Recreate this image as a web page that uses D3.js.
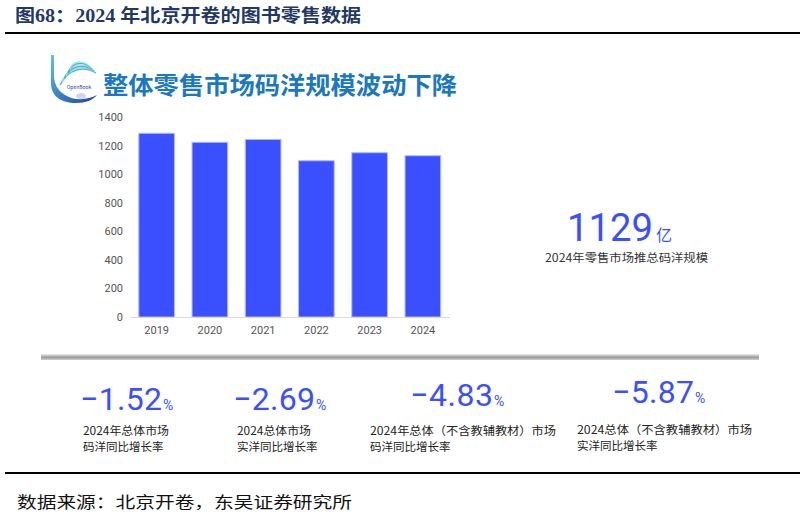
<!DOCTYPE html>
<html>
<head>
<meta charset="utf-8">
<script src="https://cdn.jsdelivr.net/npm/d3@7/dist/d3.min.js"></script>
<style>
  html, body { margin: 0; padding: 0; background: #fff; }
  svg { display: block; }
</style>
</head>
<body>
<svg id="chart" width="805" height="520"></svg>
<script>
// ---- data ----
const years = ["2019", "2020", "2021", "2022", "2023", "2024"];
const salesValues = [1286, 1223, 1243, 1094, 1150, 1129];
const yTicks = [0, 200, 400, 600, 800, 1000, 1200, 1400];
const headlineValue = "1129";
const headlineUnit = "亿";
const headlineLabel = "2024年零售市场推总码洋规模";
const kpiValues = ["−1.52", "−2.69", "−4.83", "−5.87"];
const kpiLabelLine1 = ["2024年总体市场", "2024总体市场", "2024年总体（不含教辅教材）市场", "2024总体（不含教辅教材）市场"];
const kpiLabelLine2 = ["码洋同比增长率", "实洋同比增长率", "码洋同比增长率", "实洋同比增长率"];
const figTitle = "图68：2024 年北京开卷的图书零售数据";
const panelTitle = "整体零售市场码洋规模波动下降";
const sourceText = "数据来源：北京开卷，东吴证券研究所";

const svg = d3.select("#chart");
const sans = "'Noto Sans CJK SC', 'Noto Sans', sans-serif";
const serif = "'Liberation Serif', 'DejaVu Serif', 'Noto Sans CJK SC', serif";
const blue = "#3a50ff";

// ---- frame: title, rules, source ----
svg.append("text").attr("x", 15).attr("y", 22)
  .attr("font-family", serif).attr("font-weight", "bold").attr("font-size", 18)
  .attr("fill", "#1f3864").attr("textLength", 346).attr("lengthAdjust", "spacingAndGlyphs")
  .text(figTitle);
svg.append("line").attr("x1", 5).attr("x2", 800).attr("y1", 33).attr("y2", 33)
  .attr("stroke", "#000").attr("stroke-width", 2);
svg.append("line").attr("x1", 5).attr("x2", 800).attr("y1", 473).attr("y2", 473)
  .attr("stroke", "#000").attr("stroke-width", 2);
svg.append("text").attr("x", 17).attr("y", 508)
  .attr("font-family", serif).attr("font-size", 16)
  .attr("fill", "#111").attr("textLength", 335).attr("lengthAdjust", "spacingAndGlyphs")
  .text(sourceText);

// ---- logo (approximation) ----
const defs = svg.append("defs");
const lg = defs.append("linearGradient").attr("id", "logoGrad")
  .attr("x1", "0").attr("y1", "0").attr("x2", "1").attr("y2", "1");
lg.append("stop").attr("offset", "0%").attr("stop-color", "#5fc6d8");
lg.append("stop").attr("offset", "100%").attr("stop-color", "#1d3fa8");
const logo = svg.append("g").attr("transform", "translate(50,55)");
logo.append("path")
  .attr("d", "M1,0 L1,28 C1,42 12,48 26,48 C36,48 43,45 47,40 C38,45 24,46 15,40 C7,35 4,28 4,20 L4,0 Z")
  .attr("fill", "url(#logoGrad)");
[0, 1, 2, 3, 4, 5].forEach(i => {
  logo.append("path")
    .attr("d", `M${10 + i * 2},${30 - i * 3} C${18 + i},${14 - i * 2} ${34},${10 - i} ${46 - i},${18 - i}`)
    .attr("fill", "none").attr("stroke", i % 2 ? "#8fdbe5" : "#3aa9c7")
    .attr("stroke-width", 1.4).attr("opacity", 0.85);
});
logo.append("text").attr("x", 29).attr("y", 34).attr("text-anchor", "middle")
  .attr("font-family", sans).attr("font-size", 5).attr("fill", "#1d3fa8").text("OpenBook");
logo.append("ellipse").attr("cx", 31).attr("cy", 41).attr("rx", 5).attr("ry", 3)
  .attr("fill", "#b8c6e8").attr("opacity", 0.7);

// ---- panel title ----
svg.append("text").attr("x", 103).attr("y", 94)
  .attr("font-family", sans).attr("font-weight", "bold").attr("font-size", 24)
  .attr("fill", "#1a78c2").attr("textLength", 354).attr("lengthAdjust", "spacingAndGlyphs")
  .text(panelTitle);

// ---- bar chart ----
const x = d3.scaleBand().domain(years).range([130, 449.5]).paddingInner(0.33).paddingOuter(0.165);
const y = d3.scaleLinear().domain([0, 1400]).range([317, 117]);

const yAxis = svg.append("g").attr("transform", "translate(123,0)")
  .call(d3.axisLeft(y).tickValues(yTicks).tickFormat(d3.format("d")).tickSize(0).tickPadding(0));
yAxis.select(".domain").remove();
yAxis.selectAll("text").attr("font-family", "Roboto, 'Noto Sans', sans-serif")
  .attr("font-size", 11).attr("fill", "#555");

svg.selectAll("rect.bar").data(years).join("rect").attr("class", "bar")
  .attr("x", d => x(d)).attr("width", x.bandwidth())
  .attr("y", (d, i) => y(salesValues[i]))
  .attr("height", (d, i) => y(0) - y(salesValues[i]))
  .attr("fill", blue).attr("stroke", "#b3bbff").attr("stroke-width", 1);

const xAxis = svg.append("g").attr("transform", "translate(0,317)")
  .call(d3.axisBottom(x).tickSize(0).tickPadding(9));
xAxis.select(".domain").attr("stroke", "#d9d9d9").attr("stroke-width", 1.2);
xAxis.selectAll("text").attr("font-family", "Roboto, 'Noto Sans', sans-serif")
  .attr("font-size", 11).attr("fill", "#555");

// ---- headline number ----
svg.append("text").attr("x", 567).attr("y", 241)
  .attr("font-family", "Roboto, 'Noto Sans', sans-serif").attr("font-weight", 400)
  .attr("font-size", 38).attr("fill", blue)
  .attr("textLength", 86).attr("lengthAdjust", "spacingAndGlyphs").text(headlineValue);
svg.append("text").attr("x", 656).attr("y", 241)
  .attr("font-family", sans).attr("font-size", 16).attr("fill", blue).text(headlineUnit);
svg.append("text").attr("x", 545).attr("y", 262)
  .attr("font-family", sans).attr("font-size", 11.5).attr("fill", "#333")
  .attr("textLength", 163).attr("lengthAdjust", "spacingAndGlyphs").text(headlineLabel);

// ---- separator ----
const sg = defs.append("linearGradient").attr("id", "sepGrad")
  .attr("x1", "0").attr("y1", "0").attr("x2", "0").attr("y2", "1");
sg.append("stop").attr("offset", "0%").attr("stop-color", "#eeeeee");
sg.append("stop").attr("offset", "55%").attr("stop-color", "#9a9a9a");
sg.append("stop").attr("offset", "100%").attr("stop-color", "#d0d0d0");
svg.append("rect").attr("x", 41).attr("y", 354).attr("width", 718).attr("height", 6)
  .attr("fill", "url(#sepGrad)");

// ---- KPIs ----
const kpiX = [80, 233, 410, 612];
const kpiW = [82, 82, 83, 82];
const kpiLabelX = [83, 237, 370, 577];
const kpiLabelW = [86, 74, 186, 175];
const kpiLabelY = [435, 435, 435, 434];
const kpiNumY = [410, 410, 406, 403];
kpiValues.forEach((v, i) => {
  svg.append("text").attr("x", kpiX[i]).attr("y", kpiNumY[i])
    .attr("font-family", "Roboto, 'Noto Sans', sans-serif").attr("font-weight", 400)
    .attr("font-size", 32).attr("fill", blue)
    .attr("textLength", kpiW[i]).attr("lengthAdjust", "spacing").text(v);
  svg.append("text").attr("x", kpiX[i] + kpiW[i] + 1).attr("y", kpiNumY[i])
    .attr("font-family", "Roboto, 'Noto Sans', sans-serif")
    .attr("font-size", 14).attr("fill", blue).text("%");
  svg.append("text").attr("x", kpiLabelX[i]).attr("y", kpiLabelY[i])
    .attr("font-family", sans).attr("font-size", 11.5).attr("fill", "#222")
    .attr("textLength", kpiLabelW[i]).attr("lengthAdjust", "spacingAndGlyphs").text(kpiLabelLine1[i]);
  svg.append("text").attr("x", kpiLabelX[i]).attr("y", kpiLabelY[i] + 15.5)
    .attr("font-family", sans).attr("font-size", 11.5).attr("fill", "#222").text(kpiLabelLine2[i]);
});
</script>
</body>
</html>
